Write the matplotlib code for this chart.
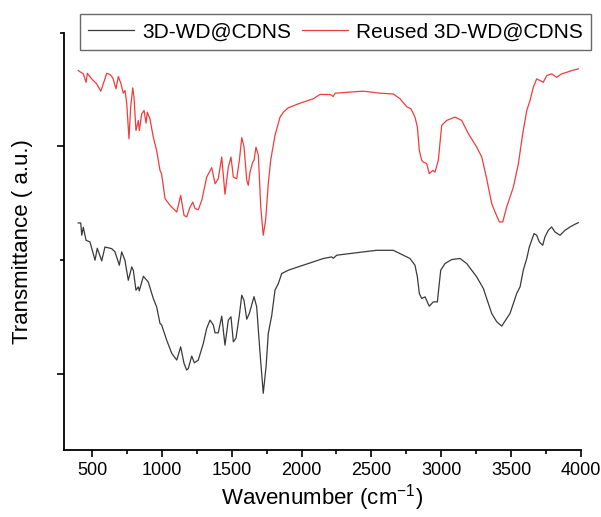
import numpy as np
import matplotlib
matplotlib.use("Agg")
import matplotlib.pyplot as plt
from matplotlib.ticker import MultipleLocator, NullFormatter

plt.rcParams['font.family'] = ['Liberation Sans', 'DejaVu Sans']
plt.rcParams['mathtext.default'] = 'regular'

# 3D-WD@CDNS spectrum (wavenumber cm-1, transmittance a.u.)
wn_fresh = [402, 420, 427, 438, 458, 486, 522, 538, 570, 593, 641, 665, 696, 713, 736,
            760, 785, 796, 815, 832, 839, 868, 903, 939, 963, 987, 999, 1035, 1071, 1107,
            1135, 1159, 1178, 1190, 1214, 1233, 1261, 1297, 1321, 1345, 1369, 1381, 1404,
            1429, 1452, 1476, 1495, 1512, 1531, 1555, 1572, 1588, 1608, 1626, 1660, 1679,
            1703, 1726, 1746, 1762, 1787, 1810, 1834, 1858, 1905, 1989, 2061, 2156, 2216,
            2227, 2252, 2442, 2538, 2657, 2728, 2776, 2812, 2829, 2843, 2860, 2884, 2914,
            2943, 2972, 2996, 3027, 3075, 3134, 3182, 3254, 3301, 3361, 3397, 3433, 3468,
            3492, 3516, 3540, 3564, 3587, 3612, 3630, 3647, 3664, 3683, 3702, 3726, 3742,
            3766, 3790, 3814, 3850, 3886, 3921, 3957, 3981]
t_fresh = [23.27, 23.27, 22.19, 22.89, 21.75, 21.60, 20.00, 21.05, 19.94, 21.16, 21.02,
           20.73, 19.56, 20.73, 20.00, 18.24, 19.41, 19.12, 17.37, 17.66, 17.31, 18.59,
           18.09, 16.64, 15.90, 14.45, 14.30, 12.98, 11.82, 11.23, 12.39, 10.94, 10.35,
           10.50, 11.58, 10.99, 11.23, 12.69, 14.01, 14.74, 14.30, 13.62, 13.62, 15.09,
           12.54, 14.74, 15.03, 12.83, 13.16, 15.17, 16.93, 16.49, 14.82, 15.32, 16.80,
           15.90, 11.84, 8.31, 10.64, 13.57, 15.17, 17.37, 17.95, 18.83, 19.12, 19.47,
           19.76, 20.15, 20.29, 20.17, 20.44, 20.73, 20.87, 20.87, 20.44, 20.15, 19.56,
           18.53, 17.08, 16.64, 16.78, 15.96, 16.34, 16.34, 19.12, 19.71, 20.06, 20.15,
           19.71, 18.53, 17.52, 15.32, 14.59, 14.21, 14.88, 15.32, 16.20, 17.08, 17.66,
           19.12, 20.15, 21.16, 21.75, 22.34, 22.19, 21.60, 21.31, 22.04, 22.63, 22.92,
           22.48, 22.19, 22.63, 22.92, 23.16, 23.30]

# Reused 3D-WD@CDNS spectrum
wn_reused = [402, 420, 438, 458, 467, 498, 534, 563, 581, 606, 629, 649, 672, 689, 708,
             724, 737, 749, 765, 777, 792, 801, 815, 832, 839, 856, 873, 887, 896, 915,
             939, 963, 987, 999, 1023, 1059, 1107, 1135, 1159, 1178, 1202, 1222, 1238,
             1261, 1286, 1321, 1357, 1381, 1404, 1429, 1452, 1476, 1495, 1512, 1536, 1555,
             1572, 1588, 1608, 1619, 1631, 1651, 1660, 1674, 1691, 1708, 1726, 1743, 1762,
             1779, 1810, 1846, 1870, 1905, 1989, 2084, 2132, 2204, 2227, 2240, 2442, 2562,
             2657, 2705, 2753, 2783, 2812, 2829, 2843, 2860, 2872, 2896, 2914, 2939, 2955,
             2979, 3003, 3039, 3098, 3146, 3194, 3254, 3290, 3325, 3361, 3385, 3416, 3440,
             3468, 3516, 3552, 3583, 3612, 3635, 3659, 3683, 3707, 3730, 3755, 3790, 3826,
             3862, 3898, 3934, 3981]
t_reused = [36.66, 36.51, 36.37, 35.63, 36.42, 35.93, 35.49, 34.85, 35.49, 36.42, 36.31,
            36.02, 35.06, 36.13, 35.49, 34.67, 34.91, 33.74, 30.67, 33.44, 35.14, 34.32,
            31.40, 32.28, 31.40, 32.86, 33.15, 32.04, 33.00, 32.42, 30.81, 29.64, 27.89,
            27.54, 25.41, 24.82, 24.23, 25.70, 23.94, 23.80, 24.67, 25.11, 24.53, 24.44,
            25.26, 27.30, 28.13, 26.72, 27.16, 29.06, 25.79, 28.18, 29.06, 27.30, 27.16,
            28.77, 30.76, 30.00, 27.01, 26.58, 27.74, 28.62, 28.77, 29.93, 29.21, 24.67,
            22.19, 23.51, 26.72, 28.77, 30.96, 32.57, 33.00, 33.39, 33.79, 34.18, 34.56,
            34.56, 34.38, 34.67, 34.85, 34.67, 34.60, 34.18, 33.48, 33.30, 32.57, 31.69,
            29.64, 28.77, 28.62, 28.48, 27.60, 27.89, 27.74, 28.77, 31.84, 32.28, 32.57,
            32.28, 31.11, 29.93, 29.06, 27.16, 24.97, 24.23, 23.36, 23.36, 24.67, 26.43,
            28.48, 31.11, 33.15, 34.03, 35.20, 35.93, 35.78, 35.63, 36.22, 36.37, 36.07,
            36.37, 36.51, 36.66, 36.81]

labels = ['3D-WD@CDNS', 'Reused 3D-WD@CDNS']

fig = plt.figure(figsize=(6.01, 5.17), dpi=100)
ax = fig.add_axes([0.1065, 0.1296, 0.8602, 0.8075])

ax.plot(wn_fresh, t_fresh, color='#3a3a3a', lw=0.9, label=labels[0])
ax.plot(wn_reused, t_reused, color='#f03c3c', lw=0.9, label=labels[1])

ax.set_xlim(300, 4000)
ax.set_ylim(3.33, 40)
ax.xaxis.set_major_locator(MultipleLocator(500))
ax.xaxis.set_minor_locator(MultipleLocator(250))
ax.set_yticks([10, 30])
ax.set_yticks([20, 40], minor=True)
ax.yaxis.set_major_formatter(NullFormatter())

for s in ['top', 'right']:
    ax.spines[s].set_visible(False)
for s in ['left', 'bottom']:
    ax.spines[s].set_linewidth(1.3)
ax.tick_params(which='major', direction='out', length=5, width=1.2, labelsize=13, pad=4)
ax.tick_params(which='minor', direction='out', length=3, width=1.2)

ax.set_xlabel('Wavenumber (cm$^{-1}$)', fontsize=16, labelpad=2)
ax.set_ylabel('Transmittance ( a.u.)', fontsize=16, labelpad=13)

leg = fig.legend(loc='upper left', bbox_to_anchor=(0.133, 0.973), ncol=2, fontsize=15,
                 frameon=True, fancybox=False, handlelength=2.2, handletextpad=0.4,
                 columnspacing=0.5, borderpad=0.4, borderaxespad=0)
leg.get_frame().set_edgecolor('#444444')
leg.get_frame().set_linewidth(1.0)

fig.savefig('out.png', dpi=100)
